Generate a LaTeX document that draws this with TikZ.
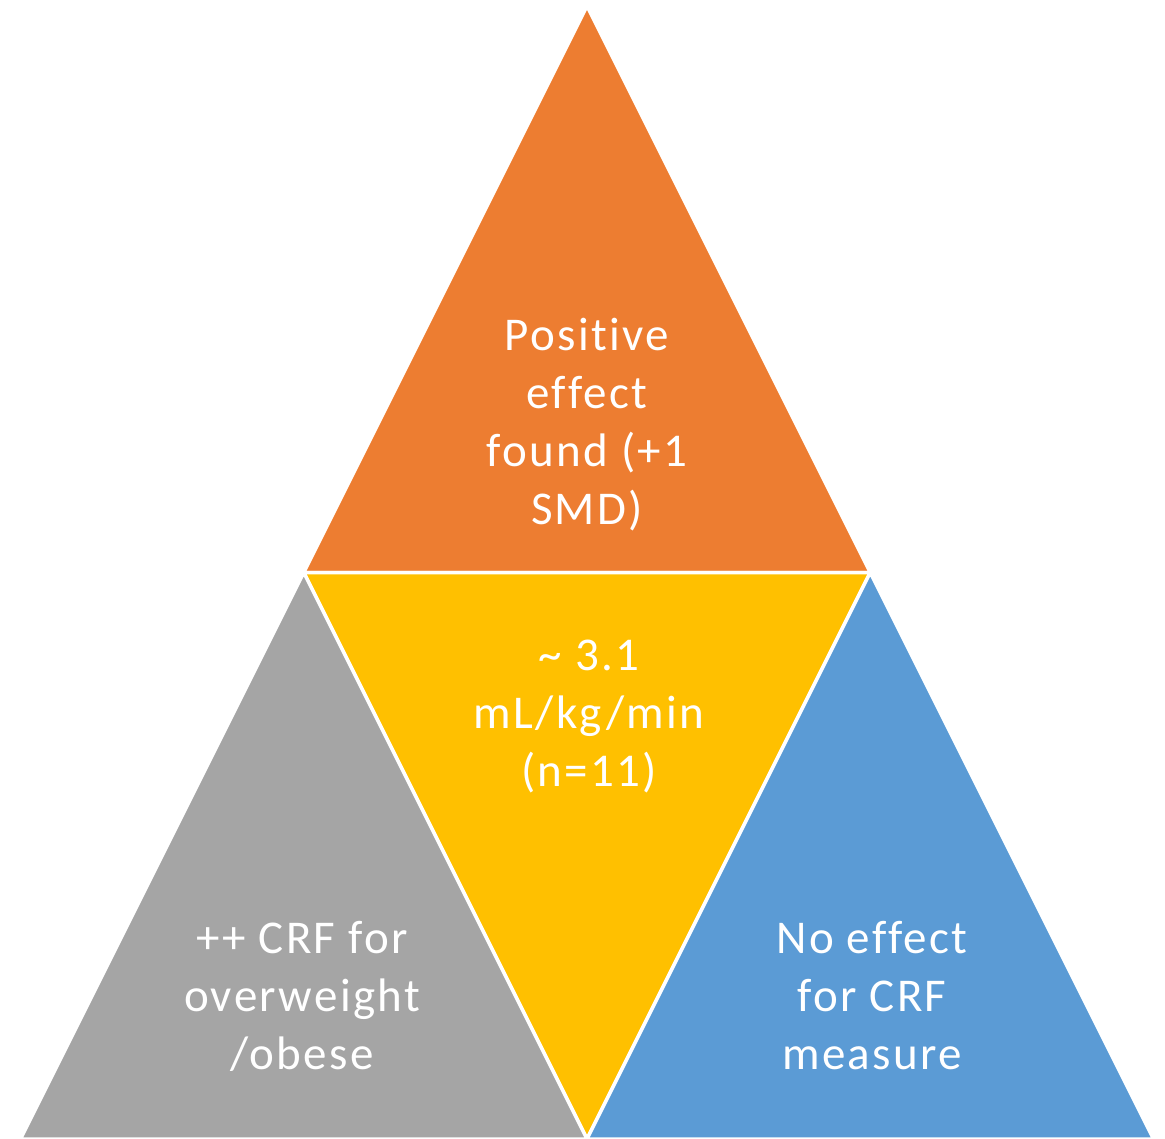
\documentclass[tikz,border=0pt]{standalone}
\usepackage{fontspec}
\setmainfont{Carlito}[Ligatures=NoCommon, LetterSpace=5]
\definecolor{triorange}{HTML}{ED7D31}
\definecolor{triyellow}{HTML}{FFC000}
\definecolor{trigray}{HTML}{A5A5A5}
\definecolor{triblue}{HTML}{5B9BD5}
\tikzset{
  piece/.style={draw=white, line width=3.5pt, line join=miter},
  lbl/.style={text=white, align=center, inner sep=0pt, anchor=base,
    font=\fontsize{47}{58}\selectfont}
}
\begin{document}
\begin{tikzpicture}[x=1pt,y=-1pt]
\useasboundingbox (0,0) rectangle (1165,1139);
% corners of the big triangle and midpoints of its sides
\coordinate (top) at (587,6);
\coordinate (bl) at (20.5,1139);
\coordinate (br) at (1153.5,1139);
\coordinate (ml) at (303.75,572.5);
\coordinate (mr) at (870.25,572.5);
\coordinate (mb) at (587,1139);
\fill[piece, fill=triorange] (top) -- (mr) -- (ml) -- cycle;
\fill[piece, fill=triyellow] (ml) -- (mr) -- (mb) -- cycle;
\fill[piece, fill=trigray] (ml) -- (mb) -- (bl) -- cycle;
\fill[piece, fill=triblue] (mr) -- (br) -- (mb) -- cycle;
% base anchor sits on the last line
\node[lbl] (effect) at (587,524) {Positive\\effect\\found (+1\\SMD)};
\node[lbl] (rate) at (589,786) {\textasciitilde{} 3.1\\mL/kg/min\\(n=11)};
\node[lbl] (obese) at (302,1069) {++ CRF for\\overweight\\/obese};
\node[lbl] (noeff) at (872,1069) {No effect\\for CRF\\measure};
\end{tikzpicture}
\end{document}
